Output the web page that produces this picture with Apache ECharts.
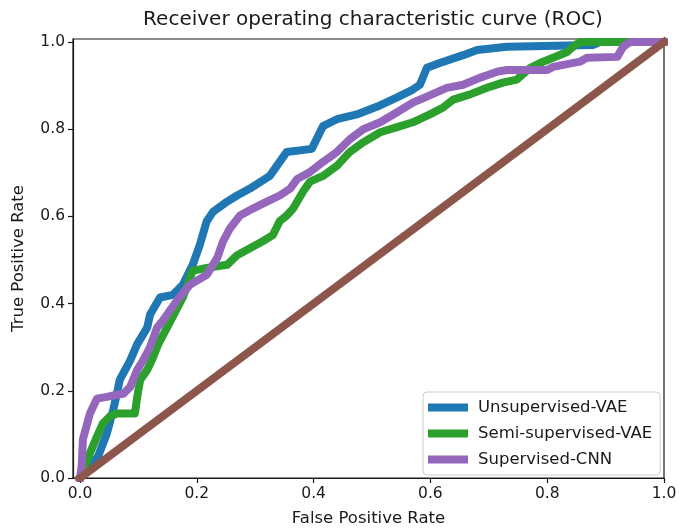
<!DOCTYPE html>
<html>
<head>
<meta charset="utf-8">
<script src="https://cdn.jsdelivr.net/npm/echarts@6/dist/echarts.min.js"></script>
<style>
  html, body { margin: 0; padding: 0; background: #fff; }
  #chart { width: 684px; height: 532px; }
</style>
</head>
<body>
<div id="chart"></div>
<script>
// ROC curves, [false positive rate, true positive rate]
const unsupervisedVAE = [
  [0, 0], [0.031, 0.05], [0.046, 0.102], [0.057, 0.157], [0.063, 0.193], [0.068, 0.225],
  [0.086, 0.27], [0.098, 0.307], [0.115, 0.345], [0.12, 0.375], [0.137, 0.414], [0.159, 0.42],
  [0.176, 0.443], [0.193, 0.489], [0.205, 0.534], [0.217, 0.589], [0.228, 0.611], [0.252, 0.634],
  [0.269, 0.648], [0.291, 0.664], [0.325, 0.693], [0.354, 0.748], [0.397, 0.755], [0.416, 0.807],
  [0.44, 0.823], [0.474, 0.834], [0.509, 0.852], [0.543, 0.873], [0.57, 0.891], [0.582, 0.902],
  [0.594, 0.941], [0.616, 0.952], [0.656, 0.97], [0.68, 0.982], [0.731, 0.989], [0.878, 0.993],
  [0.89, 1], [1, 1]
]
const semiSupervisedVAE = [
  [0, 0], [0.017, 0.057], [0.029, 0.095], [0.039, 0.125], [0.051, 0.141], [0.063, 0.148],
  [0.094, 0.148], [0.098, 0.186], [0.103, 0.225], [0.115, 0.248], [0.123, 0.27], [0.134, 0.307],
  [0.149, 0.345], [0.176, 0.414], [0.193, 0.475], [0.217, 0.482], [0.252, 0.489], [0.269, 0.511],
  [0.291, 0.527], [0.313, 0.543], [0.33, 0.557], [0.342, 0.589], [0.354, 0.602], [0.365, 0.618],
  [0.382, 0.657], [0.394, 0.68], [0.416, 0.693], [0.44, 0.716], [0.462, 0.748], [0.485, 0.77],
  [0.514, 0.793], [0.543, 0.805], [0.57, 0.816], [0.599, 0.834], [0.622, 0.85], [0.639, 0.868],
  [0.668, 0.88], [0.697, 0.895], [0.724, 0.907], [0.748, 0.914], [0.771, 0.941], [0.793, 0.955],
  [0.81, 0.964], [0.834, 0.977], [0.844, 0.989], [0.856, 1], [1, 1]
]
const supervisedCNN = [
  [0, 0], [0.003, 0.03], [0.005, 0.089], [0.017, 0.148], [0.029, 0.182], [0.046, 0.186],
  [0.063, 0.191], [0.074, 0.193], [0.086, 0.209], [0.098, 0.248], [0.108, 0.27], [0.12, 0.3],
  [0.132, 0.345], [0.142, 0.361], [0.166, 0.407], [0.188, 0.443], [0.217, 0.466], [0.235, 0.505],
  [0.245, 0.543], [0.257, 0.573], [0.274, 0.602], [0.296, 0.618], [0.32, 0.634], [0.342, 0.648],
  [0.36, 0.664], [0.372, 0.686], [0.394, 0.702], [0.416, 0.725], [0.44, 0.748], [0.462, 0.777],
  [0.485, 0.8], [0.514, 0.816], [0.543, 0.839], [0.57, 0.861], [0.594, 0.875], [0.628, 0.895],
  [0.656, 0.902], [0.685, 0.918], [0.714, 0.932], [0.731, 0.936], [0.8, 0.936], [0.81, 0.943],
  [0.856, 0.955], [0.868, 0.964], [0.92, 0.966], [0.93, 0.989], [0.942, 1], [1, 1]
]
const chanceLine = [[0, 0], [1, 1]]
const tickValues = [0, 0.2, 0.4, 0.6, 0.8, 1.0]

const FONT = 'DejaVu Sans'
const INK = '#1a1a1a'

function roc(name, data, color) {
  return {
    name, type: 'line', data, symbol: 'none', silent: true,
    lineStyle: { color, width: 8, join: 'round', cap: 'square' },
    itemStyle: { color }
  }
}

function axisCommon() {
  return {
    type: 'value',
    axisLine: { show: true, onZero: false, lineStyle: { color: INK, width: 1.2 } },
    axisTick: { show: true, length: 5, customValues: tickValues, lineStyle: { color: INK, width: 1.2 } },
    axisLabel: { customValues: tickValues, color: INK, fontFamily: FONT, fontSize: 15.5,
      formatter: v => v.toFixed(1) },
    splitLine: { show: false },
    nameTextStyle: { color: INK, fontFamily: FONT, fontSize: 16.5 }
  }
}

const chart = echarts.init(document.getElementById('chart'), null, { renderer: 'canvas' })
chart.setOption({
  animation: false,
  backgroundColor: '#fff',
  title: {
    text: 'Receiver operating characteristic curve (ROC)',
    left: 368, top: 5, textAlign: 'center',
    textStyle: { color: INK, fontFamily: FONT, fontSize: 20, fontWeight: 'normal' }
  },
  grid: { left: 73, right: 20, top: 39, bottom: 50, show: true, borderColor: INK, borderWidth: 1.2 },
  xAxis: { ...axisCommon(), min: -0.012, max: 1.0,
    name: 'False Positive Rate', nameLocation: 'middle', nameGap: 32 },
  yAxis: { ...axisCommon(), min: 0, max: 1.007,
    name: 'True Positive Rate', nameLocation: 'middle', nameGap: 46 },
  legend: {
    orient: 'vertical', left: 423, top: 392,
    padding: [7, 8, 7, 5], itemGap: 9,
    itemWidth: 40, itemHeight: 8, icon: 'rect',
    backgroundColor: 'rgba(255,255,255,0.85)', borderColor: '#cccccc', borderWidth: 1, borderRadius: 4,
    textStyle: { color: INK, fontFamily: FONT, fontSize: 16.5, padding: [0, 0, 0, 5] },
    data: ['Unsupervised-VAE', 'Semi-supervised-VAE', 'Supervised-CNN']
  },
  series: [
    roc('Unsupervised-VAE', unsupervisedVAE, '#1f77b4'),
    roc('Semi-supervised-VAE', semiSupervisedVAE, '#2ca02c'),
    roc('Supervised-CNN', supervisedCNN, '#9467bd'),
    roc('chance', chanceLine, '#8c564b')
  ]
})
</script>
</body>
</html>
